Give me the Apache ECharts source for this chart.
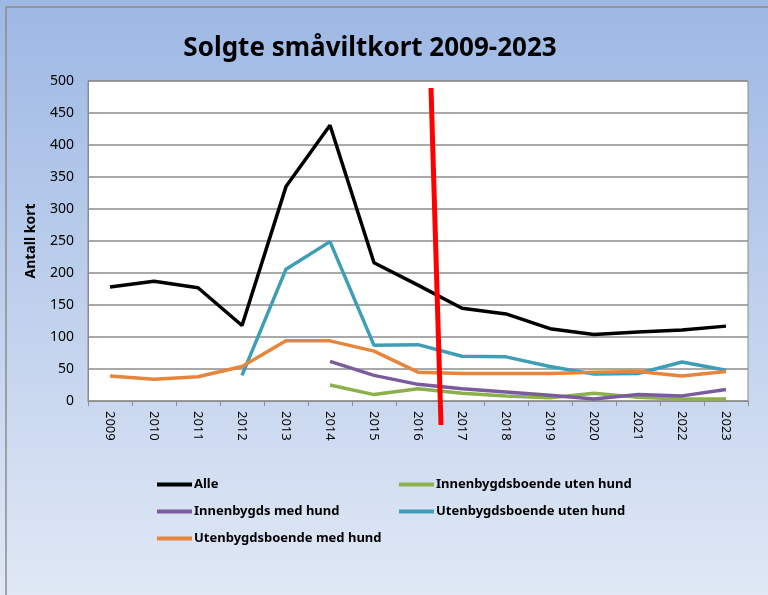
<!DOCTYPE html>
<html>
<head>
<meta charset="utf-8">
<script src="https://cdn.jsdelivr.net/npm/echarts@6/dist/echarts.min.js"></script>
<style>
  html, body { margin: 0; padding: 0; background: #fff; }
  #chart { width: 768px; height: 595px; }
</style>
</head>
<body>
<div id="chart"></div>
<script>
// data
const years = ['2009', '2010', '2011', '2012', '2013', '2014', '2015', '2016', '2017', '2018', '2019', '2020', '2021', '2022', '2023']
const alle = [178, 187, 177, 118, 335, 431, 216, 181, 145, 136, 113, 104, 108, 111, 117]
const innenUtenHund = [null, null, null, null, null, 25, 10, 19, 12, 8, 5, 12, 6, 3, 3]
const innenMedHund = [null, null, null, null, null, 62, 40, 26, 19, 14, 9, 3, 10, 8, 18]
const utenUtenHund = [null, null, null, 40, 206, 249, 87, 88, 70, 69, 54, 42, 43, 61, 48]
const utenMedHund = [39, 34, 38, 54, 94, 94, 78, 45, 43, 43, 43, 45, 46, 39, 46]
const yTicks = [0, 50, 100, 150, 200, 250, 300, 350, 400, 450, 500]

const font = 'Noto Sans'
const chart = echarts.init(document.getElementById('chart'))

function lineSeries (name, data, color) {
  return {
    type: 'line',
    name: name,
    data: data,
    symbol: 'none',
    connectNulls: false,
    lineStyle: { color: color, width: 3.5 },
    itemStyle: { color: color }
  }
}

const legendBase = {
  orient: 'vertical',
  icon: 'rect',
  itemWidth: 35,
  itemHeight: 4,
  itemGap: 14,
  textStyle: { fontFamily: font, fontSize: 13, fontWeight: 'bold', color: '#000', padding: [0, 0, 0, -3] }
}

const option = {
  animation: false,
  backgroundColor: new echarts.graphic.LinearGradient(0, 0, 0, 1, [
    { offset: 0, color: '#9db8e4' },
    { offset: 1, color: '#e0e8f5' }
  ]),
  title: {
    text: 'Solgte småviltkort 2009-2023',
    left: 365,
    top: 31,
    textAlign: 'center',
    textStyle: { fontFamily: font, fontSize: 26, fontWeight: 'bold', color: '#000' }
  },
  grid: {
    left: 88,
    right: 20,
    top: 81,
    bottom: 194,
    show: true,
    backgroundColor: '#fff',
    borderColor: '#8c8c8c',
    borderWidth: 1
  },
  legend: [
    Object.assign({}, legendBase, {
      left: 152,
      top: 473,
      data: ['Alle', 'Innenbygds med hund', 'Utenbygdsboende med hund']
    }),
    Object.assign({}, legendBase, {
      left: 394,
      top: 473,
      data: ['Innenbygdsboende uten hund', 'Utenbygdsboende uten hund']
    })
  ],
  xAxis: {
    type: 'category',
    data: years,
    boundaryGap: true,
    axisLine: { lineStyle: { color: '#8c8c8c' } },
    axisTick: { show: true, alignWithLabel: false, length: 5, lineStyle: { color: '#8c8c8c' } },
    axisLabel: { rotate: -90, fontFamily: font, fontSize: 13, color: '#000', margin: 10 }
  },
  yAxis: {
    type: 'value',
    min: 0,
    max: 500,
    interval: 50,
    name: 'Antall kort',
    nameLocation: 'middle',
    nameGap: 50,
    nameTextStyle: { fontFamily: font, fontSize: 14, fontWeight: 'bold', color: '#000' },
    axisLine: { show: true, lineStyle: { color: '#8c8c8c' } },
    axisTick: { show: false },
    axisLabel: {
      fontFamily: font,
      fontSize: 14,
      color: '#000',
      margin: 14,
      formatter: v => yTicks.includes(v) ? String(v) : ''
    },
    splitLine: { lineStyle: { color: '#8c8c8c', width: 1.5 } }
  },
  series: [
    lineSeries('Alle', alle, '#000000'),
    lineSeries('Innenbygdsboende uten hund', innenUtenHund, '#8cb04c'),
    lineSeries('Innenbygds med hund', innenMedHund, '#7a5c9e'),
    lineSeries('Utenbygdsboende uten hund', utenUtenHund, '#3f9db6'),
    lineSeries('Utenbygdsboende med hund', utenMedHund, '#e6853b')
  ],
  graphic: [
    {
      // outer frame: only left and top edges are visible in the picture
      type: 'polyline',
      shape: { points: [[6, 600], [6, 7], [780, 7]] },
      style: { fill: 'none', stroke: '#8c8c8c', lineWidth: 1.5 },
      silent: true
    },
    {
      // hand-drawn red marker over the chart
      type: 'line',
      shape: { x1: 431, y1: 88, x2: 441, y2: 425 },
      style: { stroke: '#ff0000', lineWidth: 5 },
      z: 100,
      silent: true
    }
  ]
}

chart.setOption(option)
</script>
</body>
</html>
